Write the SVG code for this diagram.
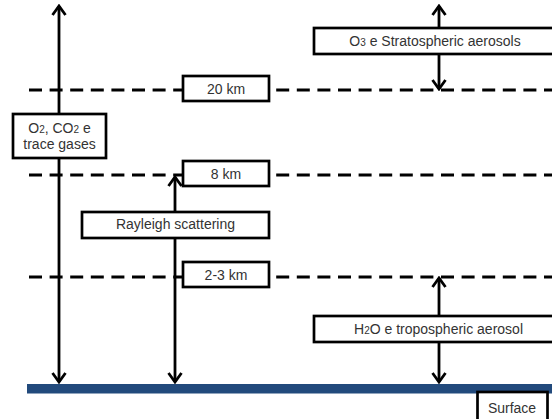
<svg xmlns="http://www.w3.org/2000/svg" width="552" height="419" viewBox="0 0 552 419">
<defs>
<marker id="ah" markerUnits="userSpaceOnUse" viewBox="-12 -9 14 18" markerWidth="14" markerHeight="18" refX="0" refY="0" orient="auto-start-reverse">
<path d="M -9 -6.5 L 0 0 L -9 6.5" fill="none" stroke="#000" stroke-width="2.8"/>
</marker>
<style>
.dash{stroke:#000;stroke-width:3;stroke-dasharray:13 7.6;fill:none}
.arr{stroke:#000;stroke-width:2.8;fill:none;marker-start:url(#ah);marker-end:url(#ah)}
.box{fill:#fff;stroke:#000;stroke-width:2.7}
.t{font-family:"Liberation Sans",Arial,sans-serif;font-size:14px;fill:#333;text-anchor:middle}
.s{font-size:10px}
</style>
</defs>
<rect x="0" y="0" width="552" height="419" fill="#fff"/>
<g id="levels">
<line class="dash" x1="29" y1="90" x2="552" y2="90"/>
<line class="dash" x1="29" y1="175" x2="552" y2="175"/>
<line class="dash" x1="29" y1="277" x2="552" y2="277"/>
</g>
<rect id="surface-bar" x="27" y="384" width="525" height="9.5" fill="#224A7C"/>
<g id="connectors">
<line class="arr" x1="59" y1="6" x2="59" y2="382"/>
<line class="arr" x1="175" y1="177" x2="175" y2="382"/>
<line class="arr" x1="439" y1="6" x2="439" y2="89"/>
<line class="arr" x1="439" y1="278" x2="439" y2="382"/>
</g>
<g id="n20km"><rect class="box" x="183" y="76" width="86" height="25"/><text class="t" x="226" y="94">20 km</text></g>
<g id="n8km"><rect class="box" x="183" y="161" width="86" height="25"/><text class="t" x="226" y="179">8 km</text></g>
<g id="n23km"><rect class="box" x="183" y="262" width="86" height="25"/><text class="t" x="226" y="280">2-3 km</text></g>
<g id="gases"><rect class="box" x="13" y="114" width="93" height="44"/><text class="t" x="59.5" y="133">O<tspan class="s">2</tspan>, CO<tspan class="s">2</tspan> e</text><text class="t" x="59.5" y="149">trace gases</text></g>
<g id="rayleigh"><rect class="box" x="82" y="212" width="187" height="26"/><text class="t" x="175.5" y="229">Rayleigh scattering</text></g>
<g id="o3"><rect class="box" x="314" y="28" width="242" height="26"/><text class="t" x="435" y="46">O<tspan class="s">3</tspan> e Stratospheric aerosols</text></g>
<g id="h2o"><rect class="box" x="314" y="316" width="242" height="26"/><text class="t" x="438.5" y="334">H<tspan class="s">2</tspan>O e tropospheric aerosol</text></g>
<g id="surface"><rect class="box" x="477.5" y="392" width="70" height="30"/><text class="t" x="512" y="413">Surface</text></g>
</svg>
